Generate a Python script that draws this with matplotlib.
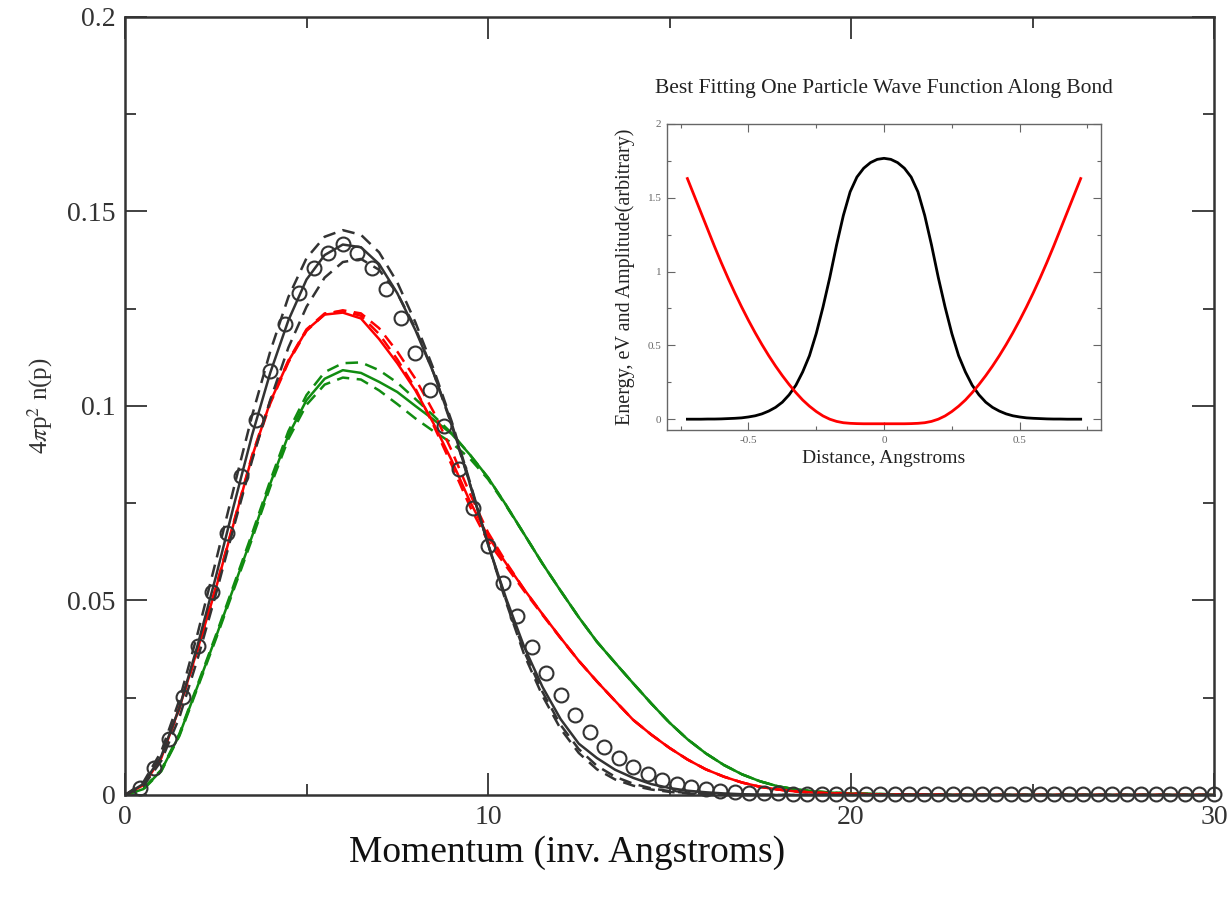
import numpy as np
import matplotlib
matplotlib.use('Agg')
from matplotlib import pyplot as plt
from matplotlib.ticker import MultipleLocator

# momentum grid used for the model curves (inv. Angstroms)
p_line = np.concatenate([np.arange(0, 20.01, 0.5), [21, 22, 23, 25, 30]])

# black: best fit and its error band
black_fit = [0, 0.0028, 0.0100, 0.0225, 0.0385, 0.0560, 0.0745, 0.0925, 0.1085, 0.1220,
             0.1325, 0.1388, 0.1415, 0.1408, 0.1365, 0.1290, 0.1195, 0.1085, 0.0955, 0.0800,
             0.0645, 0.0505, 0.0380, 0.0278, 0.0195, 0.0132, 0.0095, 0.0065, 0.0044, 0.0028,
             0.0018, 0.0011, 0.0007, 0.0004, 0.0002, 0.0001, 0, 0, 0, 0,
             0,
             0, 0, 0, 0, 0]
black_hi = [0, 0.0032, 0.0112, 0.0245, 0.0415, 0.0600, 0.0790, 0.0975, 0.1140, 0.1280,
            0.1380, 0.1435, 0.1452, 0.1440, 0.1395, 0.1318, 0.1215, 0.1095, 0.0960, 0.0805,
            0.0645, 0.0495, 0.0360, 0.0255, 0.0170, 0.0108, 0.0066, 0.0040, 0.0024, 0.0014,
            0.0008, 0.0004, 0.0002, 0.0001, 0, 0, 0, 0, 0, 0,
            0,
            0, 0, 0, 0, 0]
black_lo = [0, 0.0022, 0.0088, 0.0200, 0.0350, 0.0515, 0.0690, 0.0860, 0.1015, 0.1150,
            0.1255, 0.1330, 0.1370, 0.1378, 0.1350, 0.1290, 0.1200, 0.1085, 0.0950, 0.0800,
            0.0645, 0.0500, 0.0368, 0.0265, 0.0180, 0.0118, 0.0075, 0.0047, 0.0029, 0.0017,
            0.0010, 0.0005, 0.0003, 0.0001, 0, 0, 0, 0, 0, 0,
            0,
            0, 0, 0, 0, 0]

# red
red_fit = [0, 0.0025, 0.0095, 0.0225, 0.0375, 0.0530, 0.0700, 0.0870, 0.1010, 0.1115,
           0.1195, 0.1235, 0.1240, 0.1225, 0.1172, 0.1110, 0.1040, 0.0955, 0.0860, 0.0755,
           0.0665, 0.0595, 0.0528, 0.0465, 0.0404, 0.0345, 0.0292, 0.0242, 0.0193, 0.0155,
           0.0121, 0.0091, 0.0066, 0.0047, 0.0032, 0.0021, 0.0014, 0.0009, 0.0006, 0.0004,
           0.0003,
           0.0001, 0.0001, 0, 0, 0]
red_hi = [0, 0.0025, 0.0095, 0.0222, 0.0372, 0.0527, 0.0697, 0.0866, 0.1006, 0.1112,
          0.1193, 0.1236, 0.1246, 0.1238, 0.1200, 0.1140, 0.1070, 0.0985, 0.0885, 0.0775,
          0.0675, 0.0598, 0.0528, 0.0465, 0.0404, 0.0345, 0.0292, 0.0242, 0.0193, 0.0155,
          0.0121, 0.0091, 0.0066, 0.0047, 0.0032, 0.0021, 0.0014, 0.0009, 0.0006, 0.0004,
          0.0003,
          0.0001, 0.0001, 0, 0, 0]
red_lo = [0, 0.0026, 0.0097, 0.0227, 0.0378, 0.0533, 0.0703, 0.0873, 0.1013, 0.1117,
          0.1197, 0.1238, 0.1244, 0.1232, 0.1185, 0.1120, 0.1045, 0.0950, 0.0848, 0.0742,
          0.0652, 0.0588, 0.0524, 0.0463, 0.0403, 0.0345, 0.0292, 0.0242, 0.0193, 0.0155,
          0.0121, 0.0091, 0.0066, 0.0047, 0.0032, 0.0021, 0.0014, 0.0009, 0.0006, 0.0004,
          0.0003,
          0.0001, 0.0001, 0, 0, 0]

# green
green_fit = [0, 0.0015, 0.0063, 0.0155, 0.0280, 0.0405, 0.0535, 0.0665, 0.0800, 0.0925,
             0.1015, 0.1070, 0.1092, 0.1085, 0.1062, 0.1036, 0.1000, 0.0965, 0.0928, 0.0875,
             0.0816, 0.0745, 0.0670, 0.0595, 0.0525, 0.0457, 0.0394, 0.0340, 0.0287, 0.0235,
             0.0186, 0.0143, 0.0107, 0.0077, 0.0053, 0.0035, 0.0022, 0.0014, 0.0009, 0.0006,
             0.0004,
             0.0002, 0.0001, 0, 0, 0]
green_hi = [0, 0.0016, 0.0065, 0.0158, 0.0284, 0.0410, 0.0541, 0.0672, 0.0808, 0.0935,
            0.1028, 0.1087, 0.1110, 0.1112, 0.1092, 0.1060, 0.1018, 0.0975, 0.0930, 0.0875,
            0.0816, 0.0745, 0.0670, 0.0595, 0.0525, 0.0457, 0.0394, 0.0340, 0.0287, 0.0235,
            0.0186, 0.0143, 0.0107, 0.0077, 0.0053, 0.0035, 0.0022, 0.0014, 0.0009, 0.0006,
            0.0004,
            0.0002, 0.0001, 0, 0, 0]
green_lo = [0, 0.0014, 0.0061, 0.0152, 0.0276, 0.0400, 0.0529, 0.0658, 0.0792, 0.0915,
            0.1003, 0.1055, 0.1073, 0.1068, 0.1040, 0.1005, 0.0968, 0.0935, 0.0905, 0.0865,
            0.0812, 0.0743, 0.0670, 0.0595, 0.0525, 0.0457, 0.0394, 0.0340, 0.0287, 0.0235,
            0.0186, 0.0143, 0.0107, 0.0077, 0.0053, 0.0035, 0.0022, 0.0014, 0.0009, 0.0006,
            0.0004,
            0.0002, 0.0001, 0, 0, 0]

# measured points (open circles), every 0.4 inv. Angstrom
p_data = np.round(np.arange(1, 76) * 0.4, 1)
n_data = [0.0017, 0.0069, 0.0145, 0.0253, 0.0382, 0.0523, 0.0673, 0.0819, 0.0965, 0.1090,
          0.1210, 0.1290, 0.1355, 0.1394, 0.1416, 0.1394, 0.1355, 0.1300, 0.1227, 0.1137,
          0.1042, 0.0948, 0.0837, 0.0738, 0.0639, 0.0544, 0.0461, 0.0381, 0.0313, 0.0257,
          0.0206, 0.0163, 0.0124, 0.0096, 0.0072, 0.0054, 0.0039, 0.0029, 0.0020, 0.0015,
          0.0011, 0.0008, 0.0006, 0.0005, 0.0004] + [0.0003] * 30

# inset: wave function and potential along the bond (half profile, symmetric)
d_half = [0.000, 0.025, 0.050, 0.075, 0.100, 0.125, 0.150, 0.175, 0.200, 0.225,
          0.250, 0.275, 0.300, 0.325, 0.350, 0.375, 0.400, 0.425, 0.450, 0.475,
          0.500, 0.525, 0.550, 0.575, 0.600, 0.625, 0.650, 0.675, 0.700, 0.725]
psi_half = [1.767, 1.760, 1.738, 1.700, 1.640, 1.540, 1.380, 1.180, 0.960, 0.760,
            0.580, 0.430, 0.320, 0.230, 0.165, 0.115, 0.080, 0.055, 0.036, 0.023,
            0.015, 0.009, 0.006, 0.004, 0.002, 0.001, 0.001, 0.000, 0.000, 0.000]
pot_half = [-0.031, -0.031, -0.031, -0.031, -0.030, -0.028, -0.024, -0.015, 0.000, 0.022,
            0.052, 0.088, 0.130, 0.180, 0.235, 0.295, 0.360, 0.430, 0.505, 0.585,
            0.670, 0.760, 0.855, 0.955, 1.060, 1.170, 1.285, 1.400, 1.515, 1.630]

SERIF = ['Liberation Serif', 'DejaVu Serif']
GREY = '#333333'
RED = '#ff0000'
GREEN = '#118c11'


def mirror(x, y):
  x = np.asarray(x)
  y = np.asarray(y)
  return np.concatenate([-x[:0:-1], x]), np.concatenate([y[:0:-1], y])


def main():
  plt.rcParams['font.family'] = SERIF
  plt.rcParams['mathtext.fontset'] = 'stix'

  fig = plt.figure(figsize=(12.28, 8.98), dpi=100)
  ax = fig.add_axes([0.1018, 0.1147, 0.8868, 0.8664])

  dash = (5, 3)
  for fit, hi, lo, col in [(green_fit, green_hi, green_lo, GREEN),
                           (red_fit, red_hi, red_lo, RED),
                           (black_fit, black_hi, black_lo, GREY)]:
    ax.plot(p_line, hi, color=col, lw=1.8, dashes=dash)
    ax.plot(p_line, lo, color=col, lw=1.8, dashes=dash)
    ax.plot(p_line, fit, color=col, lw=1.8)

  ax.plot(p_data, n_data, 'o', ms=10, mfc='none', mec=GREY, mew=1.5, clip_on=False, zorder=5)

  ax.set_xlim(0, 30)
  ax.set_ylim(0, 0.2)
  ax.xaxis.set_major_locator(MultipleLocator(10))
  ax.xaxis.set_minor_locator(MultipleLocator(5))
  ax.yaxis.set_minor_locator(MultipleLocator(0.025))
  ax.set_yticks([0, 0.05, 0.1, 0.15, 0.2])
  ax.set_yticklabels(['0', '0.05', '0.1', '0.15', '0.2'])
  ax.tick_params(which='both', direction='in', top=True, right=True, colors=GREY,
                 labelsize=20, width=1.3)
  ax.tick_params(which='major', length=16, pad=7)
  ax.tick_params(which='minor', length=8)
  for s in ax.spines.values():
    s.set_linewidth(1.8)
    s.set_color(GREY)

  ax.set_ylabel(r'4$\pi$p$^2$ n(p)', fontsize=18, color=GREY)
  ax.yaxis.set_label_coords(-0.064, 0.5)
  fig.text(567 / 1228., 1 - 853 / 898., 'Momentum (inv. Angstroms)', fontsize=27,
           ha='center', va='center', color='#111111')

  # inset
  ins = fig.add_axes([0.5432, 0.5212, 0.3534, 0.3408])
  dx, psi = mirror(d_half, psi_half)
  dx2, pot = mirror(d_half, pot_half)
  ins.plot(dx, psi, color='black', lw=2)
  ins.plot(dx2, pot, color=RED, lw=2)
  ins.set_xlim(-0.8, 0.8)
  ins.set_ylim(-0.073, 2.0)
  ins.xaxis.set_minor_locator(MultipleLocator(0.25))
  ins.yaxis.set_minor_locator(MultipleLocator(0.25))
  ins.set_xticks([-0.5, 0, 0.5])
  ins.set_xticklabels(['-0.5', '0', '0.5'])
  ins.set_yticks([0, 0.5, 1, 1.5, 2])
  ins.set_yticklabels(['0', '0.5', '1', '1.5', '2'])
  ins.tick_params(which='both', direction='in', top=True, right=True, colors='#666666',
                  labelsize=8, width=0.8)
  ins.tick_params(which='major', length=6, pad=4)
  ins.tick_params(which='minor', length=3)
  for s in ins.spines.values():
    s.set_linewidth(1.0)
    s.set_color('#666666')
  ins.set_xlabel('Distance, Angstroms', fontsize=14, color='#222222')
  ins.xaxis.set_label_coords(0.5, -0.065)
  ins.set_ylabel('Energy, eV and Amplitude(arbitrary)', fontsize=14.5, color='#222222')
  ins.yaxis.set_label_coords(-0.075, 0.5)
  fig.text(884 / 1228., 1 - 88 / 898., 'Best Fitting One Particle Wave Function Along Bond',
           fontsize=15.5, ha='center', va='center', color='#222222')

  fig.savefig('out.png', dpi=100)


if __name__ == '__main__':
  main()
